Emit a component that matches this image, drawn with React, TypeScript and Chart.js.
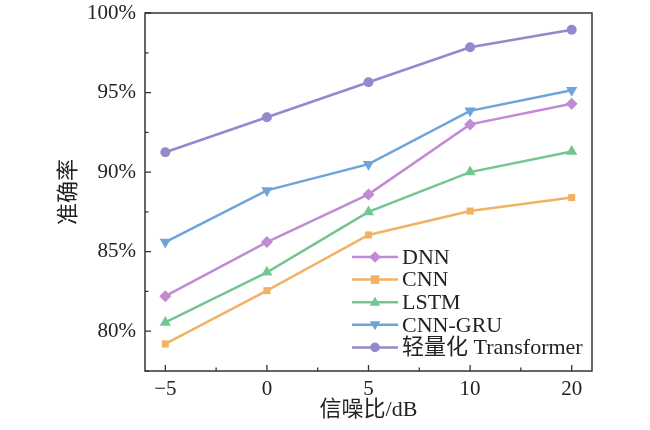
import React, { useEffect, useRef } from "react";
import { Chart, registerables } from "chart.js";

Chart.register(...registerables);

const snrLabels = ["\u22125", "0", "5", "10", "20"];
const seriesNames = ["DNN", "CNN", "LSTM", "CNN-GRU", "轻量化 Transformer"];
const dnn = [82.2, 85.6, 88.6, 93.0, 94.3];
const cnn = [79.2, 82.55, 86.05, 87.55, 88.4];
const lstm = [80.55, 83.7, 87.5, 90.0, 91.3];
const cnnGru = [85.6, 88.85, 90.5, 93.85, 95.15];
const transformer = [91.25, 93.45, 95.65, 97.85, 98.95];
const yTicks = [80, 85, 90, 95, 100];

const colors = ["#c08bd2", "#f2b264", "#74c690", "#6ea4da", "#9389cd"];
const markers = ["rectRot", "rect", "triangle", "triangle", "circle"];
const rotations = [0, 0, 0, 180, 0];
const radii = [6, 5, 6.5, 6.5, 5];
const allValues = [dnn, cnn, lstm, cnnGru, transformer];

const FONT = '"Liberation Serif", "Noto Sans CJK SC", serif';
const AXIS = "#333333";

function drawMarker(ctx: CanvasRenderingContext2D, style: string, rot: number, cx: number, cy: number, r: number) {
  ctx.save();
  ctx.translate(cx, cy);
  ctx.rotate((rot * Math.PI) / 180);
  ctx.beginPath();
  if (style === "circle") {
    ctx.arc(0, 0, r, 0, Math.PI * 2);
  } else if (style === "rect") {
    ctx.rect(-r * 0.9, -r * 0.9, r * 1.8, r * 1.8);
  } else if (style === "rectRot") {
    ctx.moveTo(0, -r * 1.2);
    ctx.lineTo(r * 1.2, 0);
    ctx.lineTo(0, r * 1.2);
    ctx.lineTo(-r * 1.2, 0);
    ctx.closePath();
  } else {
    ctx.moveTo(0, -r * 1.15);
    ctx.lineTo(r * 1.1, r * 0.75);
    ctx.lineTo(-r * 1.1, r * 0.75);
    ctx.closePath();
  }
  ctx.fill();
  ctx.restore();
}

// frame, inward ticks, titles and the in-plot legend
const decorPlugin = {
  id: "decor",
  afterDraw(chart: any) {
    const { ctx, chartArea: a, scales } = chart;
    const x = scales.x;
    const y = scales.y;
    ctx.save();
    ctx.strokeStyle = AXIS;
    ctx.lineWidth = 1.5;
    ctx.strokeRect(a.left, a.top, a.right - a.left, a.bottom - a.top);

    ctx.lineWidth = 1.3;
    ctx.beginPath();
    for (let i = 0; i < snrLabels.length; i++) {
      const px = x.getPixelForValue(i);
      ctx.moveTo(px, a.bottom);
      ctx.lineTo(px, a.bottom - 6);
      if (i < snrLabels.length - 1) {
        const mx = x.getPixelForValue(i + 0.5);
        ctx.moveTo(mx, a.bottom);
        ctx.lineTo(mx, a.bottom - 3.5);
      }
    }
    for (const v of yTicks) {
      const py = y.getPixelForValue(v);
      ctx.moveTo(a.left, py);
      ctx.lineTo(a.left + 6, py);
      const my = y.getPixelForValue(v - 2.5);
      ctx.moveTo(a.left, my);
      ctx.lineTo(a.left + 3.5, my);
    }
    ctx.stroke();

    ctx.fillStyle = "#222";
    ctx.font = `22px ${FONT}`;
    ctx.textAlign = "center";
    ctx.textBaseline = "middle";
    ctx.fillText("信噪比/dB", (a.left + a.right) / 2, 410);
    ctx.save();
    ctx.translate(69, 192);
    ctx.rotate(-Math.PI / 2);
    ctx.fillText("准确率", 0, 0);
    ctx.restore();

    // legend
    const lx = 352;
    const rowH = 22.6;
    const top = 257;
    ctx.textAlign = "left";
    ctx.font = `22px ${FONT}`;
    seriesNames.forEach((name, i) => {
      const cy = top + i * rowH;
      ctx.strokeStyle = colors[i];
      ctx.lineWidth = 2.5;
      ctx.beginPath();
      ctx.moveTo(lx, cy);
      ctx.lineTo(lx + 46, cy);
      ctx.stroke();
      ctx.fillStyle = colors[i];
      drawMarker(ctx, markers[i], rotations[i], lx + 23, cy, 4.8);
      ctx.fillStyle = "#222";
      ctx.fillText(name, lx + 50, cy + 1);
    });
    ctx.restore();
  },
};

const App = () => {
  const chartRef = useRef<HTMLCanvasElement | null>(null);
  useEffect(() => {
    document.body.style.margin = "0";
    let chartInstance: Chart | null = null;
    if (chartRef.current) {
      const context = chartRef.current.getContext("2d");
      if (context) {
        chartInstance = new Chart(context, {
          type: "line",
          data: {
            datasets: seriesNames.map((name, i) => ({
              label: name,
              data: allValues[i].map((v, j) => ({ x: j, y: v })),
              borderColor: colors[i],
              backgroundColor: colors[i],
              borderWidth: 2.5,
              pointStyle: markers[i] as any,
              pointRotation: rotations[i],
              pointRadius: radii[i],
              pointBorderWidth: 0,
              tension: 0,
            })),
          },
          options: {
            animation: false,
            responsive: false,
            devicePixelRatio: 1,
            layout: { padding: { left: 0, right: 58, top: 13, bottom: 0 } },
            plugins: {
              legend: { display: false },
              tooltip: { enabled: false },
            },
            scales: {
              x: {
                type: "linear",
                min: -0.2,
                max: 4.2,
                grid: { display: false, drawTicks: false },
                border: { display: false },
                afterBuildTicks: (s: any) => {
                  s.ticks = snrLabels.map((_, i) => ({ value: i }));
                },
                afterFit: (s: any) => {
                  s.height = 59;
                  s.paddingLeft = 0;
                  s.paddingRight = 0;
                },
                ticks: {
                  padding: 6,
                  color: "#222",
                  font: { family: FONT, size: 21 },
                  callback: (v: any) => snrLabels[Math.round(Number(v))] ?? "",
                  maxRotation: 0,
                },
              },
              y: {
                min: 77.5,
                max: 100,
                grid: { display: false, drawTicks: false },
                border: { display: false },
                afterBuildTicks: (s: any) => {
                  s.ticks = yTicks.map((v) => ({ value: v }));
                },
                afterFit: (s: any) => {
                  s.width = 145;
                  s.paddingTop = 0;
                  s.paddingBottom = 0;
                },
                ticks: {
                  padding: 9,
                  color: "#222",
                  font: { family: FONT, size: 21 },
                  callback: (v: any) => `${v}%`,
                },
              },
            },
          },
          plugins: [decorPlugin],
        });
      }
    }
    return () => {
      if (chartInstance) {
        chartInstance.destroy();
      }
    };
  }, []);

  return <canvas ref={chartRef} width={650} height={430} style={{ display: "block" }} />;
};

export default App;
